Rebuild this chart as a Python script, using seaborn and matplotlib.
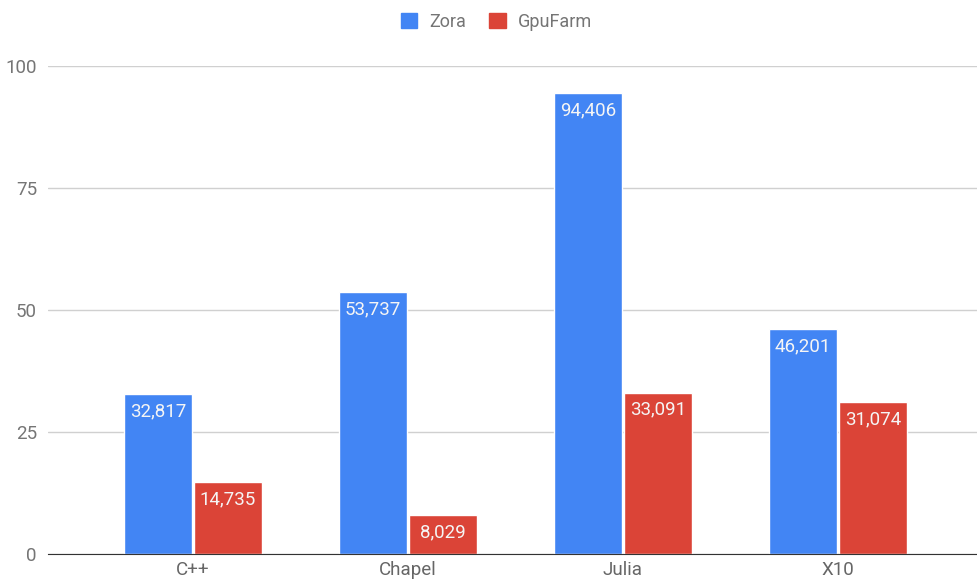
import pandas as pd
import matplotlib.pyplot as plt
import seaborn as sns

languages = ['C++', 'Chapel', 'Julia', 'X10']
zora = [32.817, 53.737, 94.406, 46.201]
gpufarm = [14.735, 8.029, 33.091, 31.074]
series_names = ['Zora', 'GpuFarm']
colors = ['#4285F4', '#DB4437']

df = pd.DataFrame({
    'language': languages * 2,
    'value': zora + gpufarm,
    'machine': [series_names[0]] * len(languages) + [series_names[1]] * len(languages),
})

sns.set_style('white')
plt.rcParams['font.family'] = ['Roboto', 'DejaVu Sans']

fig = plt.figure(figsize=(9.77, 5.85), dpi=100)
ax = fig.add_axes([48 / 977, 31 / 585, 929 / 977, 488 / 585])

sns.barplot(data=df, x='language', y='value', hue='machine', palette=colors,
            width=0.65, gap=0.03, saturation=1, ax=ax, legend=False)

# labels inside top of each bar
for container in ax.containers:
    for patch, val in zip(container.patches, container.datavalues):
        ax.annotate(f'{val:.3f}'.replace('.', ','),
                    xy=(patch.get_x() + patch.get_width() / 2, patch.get_height()),
                    xytext=(0, -6), textcoords='offset points',
                    ha='center', va='top', color='#f5f5f5', fontsize=13.5)

ax.set_ylim(0, 100)
ax.set_xlim(-0.674, 3.647)
ax.set_yticks([0, 25, 50, 75, 100])
ax.yaxis.grid(True, color='#d0d0d0', linewidth=1)
ax.set_axisbelow(True)
for side in ['top', 'right', 'left']:
    ax.spines[side].set_visible(False)
ax.spines['bottom'].set_color('#333333')
ax.tick_params(axis='y', length=0, labelsize=13.5, labelcolor='#757575', pad=8)
ax.tick_params(axis='x', length=0, labelsize=13.5, labelcolor='#666666', pad=5)
ax.set_xlabel('')
ax.set_ylabel('')

handles = [plt.Rectangle((0, 0), 1, 1, color=c) for c in colors]
fig.legend(handles, series_names, loc='center', bbox_to_anchor=(0.508, 1 - 22 / 585),
           ncol=2, frameon=False, fontsize=13, labelcolor='#757575',
           handlelength=0.9, handleheight=0.9, columnspacing=1.3, handletextpad=0.66)

fig.savefig('out.png', dpi=100)
